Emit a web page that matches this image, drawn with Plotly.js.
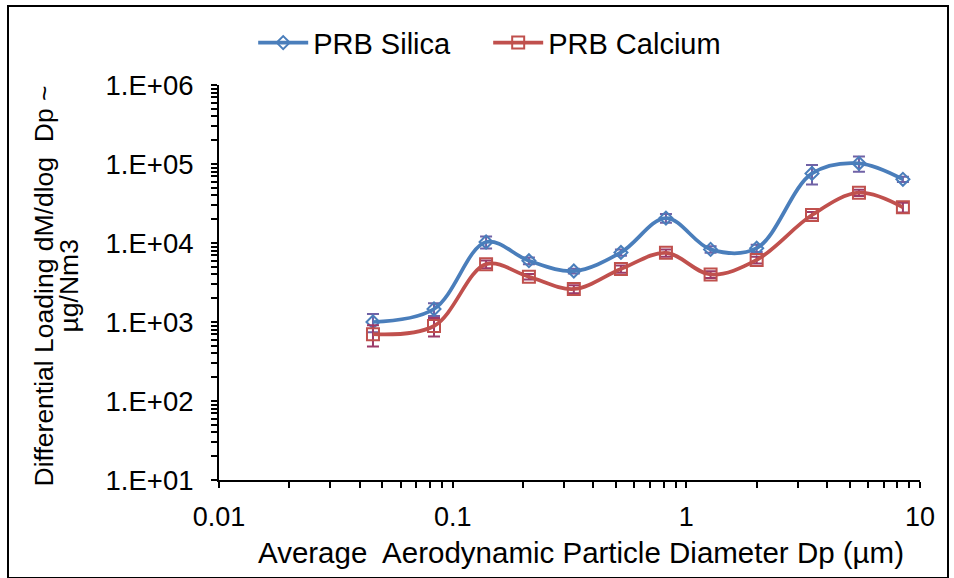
<!DOCTYPE html>
<html>
<head>
<meta charset="utf-8">
<script src="https://cdn.plot.ly/plotly-3.0.1.min.js"></script>
<style>
html,body{margin:0;padding:0;background:#fff;}
#chart{width:954px;height:578px;position:relative;}
#frame{position:absolute;left:7px;top:5px;width:938px;height:570px;border:2px solid #000;pointer-events:none;}
</style>
</head>
<body>
<div id="chart"></div>
<div id="frame"></div>
<script>
const diameters = [0.0456, 0.0832, 0.139, 0.212, 0.330, 0.525, 0.818, 1.27, 2.00, 3.45, 5.48, 8.45];
const silica = [1000, 1460, 10300, 5970, 4420, 7600, 20700, 8300, 8600, 76000, 102000, 64000];
const silicaErr = [260, 270, 1800, 600, 300, 700, 2600, 800, 900, 21000, 22000, 5000];
const calcium = [700, 890, 5400, 3740, 2620, 4690, 7500, 4000, 6100, 22600, 43300, 28300];
const calciumErr = [210, 235, 600, 300, 300, 500, 800, 400, 600, 2000, 4000, 4000];
const seriesNames = ["PRB Silica", "PRB Calcium"];
const xTickVals = [0.01, 0.1, 1, 10];
const xTickText = ["0.01", "0.1", "1", "10"];
const yTickVals = [10, 100, 1000, 10000, 100000, 1000000];
const yTickText = ["1.E+01", "1.E+02", "1.E+03", "1.E+04", "1.E+05", "1.E+06"];
const yTitleLines = ["Differential Loading dM/dlog  Dp ~", "µg/Nm3"];
const xTitle = "Average  Aerodynamic Particle Diameter Dp (µm)";

const font = "Liberation Sans, Arial, sans-serif";

const traces = [
  {
    x: diameters, y: silica, name: seriesNames[0], type: "scatter", mode: "lines+markers",
    line: {color: "#4a7ebb", width: 3.75, shape: "spline", smoothing: 1},
    marker: {symbol: "diamond-open", size: 10, color: "#4a7ebb", line: {width: 2, color: "#4a7ebb"}},
    error_y: {type: "data", array: silicaErr, visible: true, color: "#7062a6", thickness: 2, width: 6}
  },
  {
    x: diameters, y: calcium, name: seriesNames[1], type: "scatter", mode: "lines+markers",
    line: {color: "#c0504d", width: 3.75, shape: "spline", smoothing: 1},
    marker: {symbol: "square-open", size: 12, color: "#c0504d", line: {width: 2, color: "#c0504d"}},
    error_y: {type: "data", array: calciumErr, visible: true, color: "#9c3a68", thickness: 2, width: 6}
  }
];

const layout = {
  width: 954, height: 578,
  margin: {l: 219, r: 34, t: 85, b: 98},
  paper_bgcolor: "#fff", plot_bgcolor: "#fff",
  font: {family: font, size: 28, color: "#000"},
  showlegend: true,
  legend: {orientation: "h", x: 0.384, xanchor: "center", xref: "paper", y: 0.926, yanchor: "middle",
           yref: "container", itemwidth: 50, entrywidth: 170, entrywidthmode: "pixels", tracegroupgap: 0,
           font: {family: font, size: 29, color: "#000"}, bgcolor: "rgba(0,0,0,0)"},
  xaxis: {
    type: "log", range: [-2, 1], showgrid: false, zeroline: false,
    showline: true, linecolor: "#000", linewidth: 2, mirror: false,
    ticks: "outside", ticklen: 6, tickwidth: 2, tickcolor: "#000",
    tickvals: xTickVals, ticktext: xTickText, ticklabelstandoff: 6,
    tickfont: {family: font, size: 27, color: "#000"},
    minor: {ticks: "outside", ticklen: 6, tickwidth: 2, tickcolor: "#000", dtick: "D1", showgrid: false}
  },
  yaxis: {
    type: "log", range: [1, 6], showgrid: false, zeroline: false,
    showline: true, linecolor: "#000", linewidth: 2,
    ticks: "outside", ticklen: 6, tickwidth: 2, tickcolor: "#000",
    tickvals: yTickVals, ticktext: yTickText, ticklabelstandoff: 12,
    tickfont: {family: font, size: 27.5, color: "#000"},
    minor: {ticks: "outside", ticklen: 6, tickwidth: 2, tickcolor: "#000", dtick: "D1", showgrid: false}
  },
  annotations: [
    {text: xTitle, xref: "paper", yref: "paper", x: (581 - 219) / 701, y: (480 - 552) / 395,
     xanchor: "center", yanchor: "middle", showarrow: false,
     font: {family: font, size: 29.5, color: "#000"}},
    {text: yTitleLines[0], xref: "paper", yref: "paper", x: (44 - 219) / 701, y: 0.49,
     xanchor: "center", yanchor: "middle", textangle: -90, showarrow: false,
     font: {family: font, size: 26.5, color: "#000"}},
    {text: yTitleLines[1], xref: "paper", yref: "paper", x: (69 - 219) / 701, y: 0.49,
     xanchor: "center", yanchor: "middle", textangle: -90, showarrow: false,
     font: {family: font, size: 26.5, color: "#000"}}
  ]
};

Plotly.newPlot("chart", traces, layout, {displayModeBar: false, staticPlot: true});
</script>
</body>
</html>
